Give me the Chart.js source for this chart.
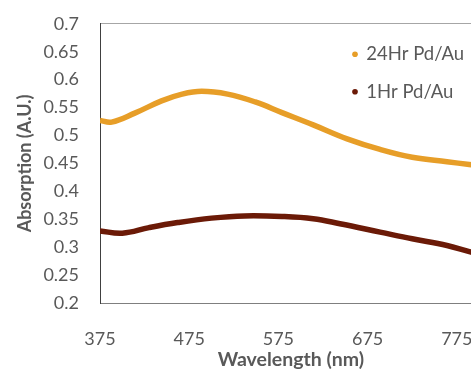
<!DOCTYPE html>
<html>
<head>
<meta charset="utf-8">
<script src="https://cdn.jsdelivr.net/npm/chart.js@4"></script>
<style>
  html, body { margin: 0; padding: 0; background: #fff; overflow: hidden; width: 471px; height: 371px; }
  #wrap { width: 490px; height: 371px; }
</style>
</head>
<body>
<div id="wrap"><canvas id="chart" width="490" height="371"></canvas></div>
<script>
// values
const wl24 = [375, 388, 414, 444, 467, 489, 518, 549, 579, 614, 652, 689, 725, 764, 789, 803];
const abs24 = [0.527, 0.524, 0.540, 0.562, 0.574, 0.579, 0.574, 0.560, 0.541, 0.519, 0.494, 0.475, 0.461, 0.453, 0.448, 0.445];

const wl1 = [375, 400, 430, 462, 500, 537, 579, 614, 644, 689, 725, 764, 789, 803];
const abs1 = [0.329, 0.325, 0.335, 0.344, 0.352, 0.356, 0.355, 0.351, 0.342, 0.327, 0.315, 0.303, 0.292, 0.287];

const seriesNames = ['24Hr Pd/Au', '1Hr Pd/Au'];
const seriesColors = ['#E79E28', '#6B1A07'];
const xTicks = [375, 475, 575, 675, 775];

const toPts = (xs, ys) => xs.map((x, i) => ({ x: x, y: ys[i] }));

const tickFont = { family: 'Lato', size: 18 };
const titleFont = { family: 'Lato', size: 18, weight: 'bold' };
const grey = '#595959';

// move legend to the top right inside the plot
const legendMove = {
  id: 'legendMove',
  afterLayout(chart) {
    const lg = chart.legend;
    lg.left = 334;
    lg.top = 26;
  }
};

const ctx = document.getElementById('chart');

new Chart(ctx, {
  type: 'line',
  data: {
    datasets: [{
      label: seriesNames[0],
      data: toPts(wl24, abs24),
      borderColor: seriesColors[0],
      backgroundColor: seriesColors[0],
      borderWidth: 5.5,
      pointRadius: 0,
      tension: 0.4
    }, {
      label: seriesNames[1],
      data: toPts(wl1, abs1),
      borderColor: seriesColors[1],
      backgroundColor: seriesColors[1],
      borderWidth: 5.5,
      pointRadius: 0,
      tension: 0.4
    }]
  },
  options: {
    responsive: false,
    animation: false,
    layout: { padding: { top: 21, right: 8, left: 0, bottom: 0 } },
    plugins: {
      tooltip: { enabled: false },
      legend: {
        position: 'chartArea',
        align: 'start',
        labels: {
          usePointStyle: true,
          pointStyle: 'circle',
          boxWidth: 4,
          boxHeight: 4,
          padding: 19,
          color: grey,
          font: { family: 'Lato', size: 18.5 },
          generateLabels(chart) {
            const items = Chart.defaults.plugins.legend.labels.generateLabels(chart);
            items.forEach((it, i) => {
              it.lineWidth = 0;
              it.fillStyle = seriesColors[i];
              it.strokeStyle = seriesColors[i];
              it.pointStyle = 'circle';
            });
            return items;
          }
        }
      }
    },
    scales: {
      x: {
        type: 'linear',
        position: 'bottom',
        min: 375,
        max: 803,
        afterBuildTicks(s) { s.ticks = xTicks.map(v => ({ value: v })); },
        afterFit(s) { s.height = 68; },
        grid: { display: false },
        border: { display: true, color: '#7f7f7f', width: 1 },
        ticks: { color: grey, font: tickFont, padding: 17, maxRotation: 0 },
        title: {
          display: true,
          text: 'Wavelength (nm)',
          color: grey,
          font: { family: 'Lato', size: 19.5, weight: 'bold' },
          padding: { top: 0, bottom: 0 }
        }
      },
      x2: {
        type: 'linear',
        position: 'top',
        min: 375,
        max: 803,
        afterFit(s) { s.height = 0; },
        grid: { display: false },
        border: { display: true, color: '#a6a6a6', width: 1 },
        ticks: { display: false }
      },
      y: {
        min: 0.2,
        max: 0.7,
        afterFit(s) { s.width = 100; },
        grid: { display: false },
        border: { display: true, color: '#404040', width: 1 },
        ticks: {
          stepSize: 0.05,
          color: grey,
          font: tickFont,
          padding: 13,
          callback: v => String(Number(v.toFixed(2)))
        },
        title: {
          display: true,
          text: 'Absorption (A.U.)',
          color: grey,
          font: titleFont,
          padding: { top: 14, bottom: 0 }
        }
      }
    }
  },
  plugins: [legendMove]
});
</script>
</body>
</html>
